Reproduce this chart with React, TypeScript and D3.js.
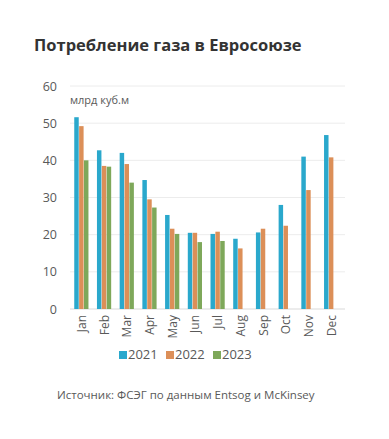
import React from 'react';
import * as d3 from 'd3';

const months = ['Jan', 'Feb', 'Mar', 'Apr', 'May', 'Jun', 'Jul', 'Aug', 'Sep', 'Oct', 'Nov', 'Dec'];
const years = ['2021', '2022', '2023'];
const values2021 = [51.6, 42.7, 42, 34.7, 25.3, 20.5, 20.2, 18.9, 20.6, 28, 41, 46.8];
const values2022 = [49.2, 38.5, 39, 29.5, 21.6, 20.5, 20.8, 16.3, 21.6, 22.4, 32, 40.8];
const values2023 = [40, 38.3, 34, 27.3, 20.2, 18, 18.3, null, null, null, null, null];
const yTicks = [0, 10, 20, 30, 40, 50, 60];
const colors = ['#2aa8cc', '#dc8f58', '#7ea85a'];

const FONT = "'Open Sans', 'Noto Sans', sans-serif";

const App: React.FC = () => {
  const width = 389;
  const height = 439;
  const series = [values2021, values2022, values2023];

  const x = d3.scaleBand<string>().domain(months).range([70, 342.5]).paddingInner(0.34).paddingOuter(0.17);
  const x1 = d3.scaleBand<string>().domain(years).range([0, x.bandwidth()]).padding(0.08);
  const y = d3.scaleLinear().domain([0, 60]).range([309, 86]);

  return (
    <svg width={width} height={height} style={{ position: 'absolute', left: 0, top: 0, background: '#fff' }}>
      <text x={34} y={51} fontFamily={FONT} fontWeight={700} fontSize={16.5} fill="#333">
        Потребление газа в Евросоюзе
      </text>

      {yTicks.map(t => (
        <g key={t}>
          {t > 0 && <line x1={70} x2={345} y1={y(t)} y2={y(t)} stroke="#ececec" strokeWidth={1} />}
          <text x={57} y={y(t) + 4.5} textAnchor="end" fontFamily={FONT} fontSize={12.5} fill="#595959">{t}</text>
        </g>
      ))}
      <line x1={70} x2={345} y1={y(0)} y2={y(0)} stroke="#d9d9d9" strokeWidth={1} />

      <text x={70} y={104} fontFamily={FONT} fontSize={11} fill="#595959">млрд куб.м</text>

      {months.map((m, i) => (
        <g key={m} transform={`translate(${x(m)},0)`}>
          {series.map((s, k) => {
            const v = s[i];
            if (v == null) return null;
            return (
              <rect key={k} x={x1(years[k])} y={y(v)} width={x1.bandwidth()} height={y(0) - y(v)} fill={colors[k]} />
            );
          })}
          <text
            transform={`translate(${x.bandwidth() / 2 + 4.5},${y(0) + 6}) rotate(-90)`}
            textAnchor="end"
            fontFamily={FONT}
            fontSize={12}
            fill="#595959"
          >
            {m}
          </text>
        </g>
      ))}

      {years.map((yr, k) => (
        <g key={yr} transform={`translate(${119 + k * 47},359)`}>
          <rect x={0} y={-8} width={8} height={8} fill={colors[k]} />
          <text x={9} y={0} fontFamily={FONT} fontSize={13} fill="#595959">{yr}</text>
        </g>
      ))}

      <text x={57} y={399} fontFamily={FONT} fontSize={11.5} fill="#595959">
        Источник: ФСЭГ по данным Entsog и McKinsey
      </text>
    </svg>
  );
};

export default App;
